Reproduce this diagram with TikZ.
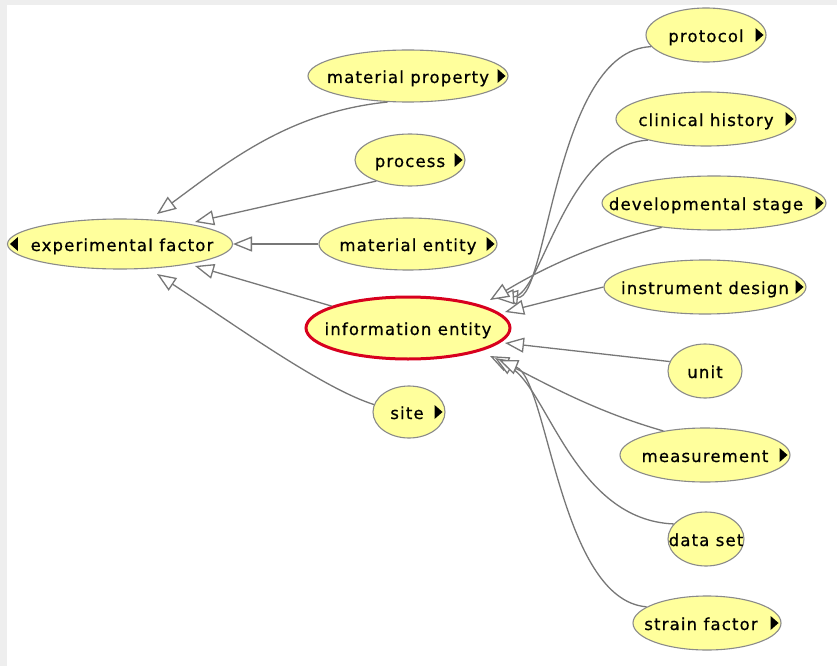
\documentclass[tikz,border=0pt]{standalone}
\usepackage{fontspec}
\setmainfont{DejaVu Sans}
\usetikzlibrary{shapes.geometric,arrows.meta}
\definecolor{bgray}{HTML}{EEEEEE}
\definecolor{nfill}{HTML}{FFFF9C}
\definecolor{nline}{HTML}{8A8A8A}
\definecolor{eline}{HTML}{777777}
\definecolor{selred}{HTML}{D8001E}
\newcommand\rmark[1]{\fill[black] ([xshift=-11pt,yshift=7pt]#1.east) -- ([xshift=-3pt]#1.east) -- ([xshift=-11pt,yshift=-7pt]#1.east) -- cycle;}
\newcommand\lmark[1]{\fill[black] ([xshift=11pt,yshift=7pt]#1.west) -- ([xshift=3pt]#1.west) -- ([xshift=11pt,yshift=-7pt]#1.west) -- cycle;}
\newcommand\lbl[2][0pt]{\makebox[0pt]{\hspace*{#1}#2\hspace*{-#1}}}
\begin{document}
\begin{tikzpicture}[x=1pt,y=-1pt,
  ent/.style={ellipse, draw=nline, line width=1.1pt, fill=nfill, inner sep=0pt,
    text height=14pt, text depth=0pt,
    font=\fontsize{16.5}{18}\selectfont\addfontfeatures{LetterSpace=7,FakeBold=0.7}, text=black},
  isa/.style={draw=eline, line width=1.3pt, -{Triangle[length=19pt,width=15pt,fill=white]}}]
\useasboundingbox (0,0) rectangle (837,666);
\fill[bgray] (0,0) rectangle (837,666);
\fill[white] (7,5) rectangle (837,666);
% nodes
\node[ent, minimum width=225pt, minimum height=50pt] (ef) at (120,244) {\lbl[2pt]{experimental factor}};
\node[ent, minimum width=200pt, minimum height=52pt] (mp) at (408,76) {\lbl{material property}};
\node[ent, minimum width=110pt, minimum height=52pt] (proc) at (410,160) {\lbl{process}};
\node[ent, minimum width=178pt, minimum height=52pt] (me) at (408,244) {\lbl{material entity}};
\node[ent, draw=selred, line width=3pt, minimum width=204pt, minimum height=62pt] (ie) at (408,328) {\lbl{information entity}};
\node[ent, minimum width=72pt, minimum height=52pt] (site) at (409,412) {\lbl[-2pt]{site}};
\node[ent, minimum width=120pt, minimum height=54pt] (proto) at (706,35) {\lbl{protocol}};
\node[ent, minimum width=180pt, minimum height=54pt] (ch) at (706,119) {\lbl{clinical history}};
\node[ent, minimum width=224pt, minimum height=54pt] (dst) at (714,203) {\lbl[-8pt]{developmental stage}};
\node[ent, minimum width=202pt, minimum height=54pt] (idsn) at (705,287) {\lbl{instrument design}};
\node[ent, minimum width=74pt, minimum height=54pt] (unit) at (705,371) {\lbl{unit}};
\node[ent, minimum width=170pt, minimum height=54pt] (meas) at (705,455) {\lbl{measurement}};
\node[ent, minimum width=76pt, minimum height=54pt] (dset) at (706,539) {\lbl{data set}};
\node[ent, minimum width=148pt, minimum height=54pt] (sf) at (707,623) {\lbl[-6pt]{strain factor}};
% expand marks
\lmark{ef}
\rmark{mp}\rmark{proc}\rmark{me}\rmark{site}
\rmark{proto}\rmark{ch}\rmark{dst}\rmark{idsn}\rmark{meas}\rmark{sf}
% tip coordinates
\coordinate (ta) at (157,214);
\coordinate (tb) at (195,222);
\coordinate (tc) at (233,244);
\coordinate (td) at (195,266);
\coordinate (te) at (157,274);
\coordinate (u1) at (499,296);
\coordinate (u2) at (495,298);
\coordinate (u3) at (490,300);
\coordinate (u4) at (505,312);
\coordinate (u5) at (505,343);
\coordinate (l1) at (490,356);
\coordinate (l2) at (495,358);
\coordinate (l3) at (499,360);
% edges to experimental factor
\draw[isa] (mp.232) .. controls (290,112) and (230,160) .. (ta);
\draw[isa] (proc.212) -- (tb);
\draw[isa] (me.west) -- (tc);
\draw[isa] (ie.164) -- (td);
\draw[isa] (site.168) .. controls (322,388) and (235,325) .. (te);
% edges to information entity
\draw[isa] (proto.192) .. controls (555,50) and (548,300) .. (u1);
\draw[isa] (ch.200) .. controls (565,145) and (542,295) .. (u2);
\draw[isa] (dst.205) .. controls (590,245) and (540,270) .. (u3);
\draw[isa] (idsn.west) -- (u4);
\draw[isa] (unit.165) -- (u5);
\draw[isa] (meas.150) .. controls (590,410) and (540,380) .. (l1);
\draw[isa] (dset.155) .. controls (575,520) and (548,390) .. (l2);
\draw[isa] (sf.165) .. controls (560,600) and (548,380) .. (l3);
\end{tikzpicture}
\end{document}
